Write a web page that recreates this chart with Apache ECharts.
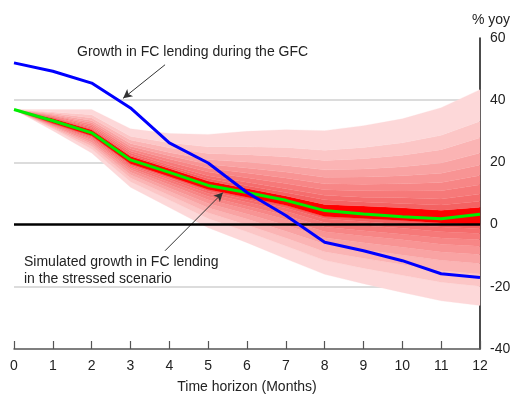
<!DOCTYPE html>
<html><head><meta charset="utf-8">
<script src="https://cdn.jsdelivr.net/npm/echarts@6/dist/echarts.min.js"></script>
<style>html,body{margin:0;padding:0;background:#fff}#c{width:512px;height:394px}</style>
</head><body><div id="c"></div>
<script>
// ---- data ----
const months = [0,1,2,3,4,5,6,7,8,9,10,11,12];
const yTicks = [-40,-20,0,20,40,60];
const gfcGrowth   = [52, 49.3, 45.5, 37.5, 26.3, 19.8, 10.3, 2.9, -5.7, -8.4, -11.6, -15.8, -17];
const simMedian   = [37, 33.4, 29.5, 20.8, 16.8, 12.6, 10.3, 7.8, 4.5, 3.4, 2.5, 1.9, 3.3];
// fan boundaries, bottom (outermost lower) to top (outermost upper)
const L9 = [37, 30.2, 23.0, 12.0, 5.5, -1.0, -5.8, -11.0, -16.0, -19.0, -21.8, -24.5, -26.0];
const L8 = [37, 30.8, 24.3, 13.8, 7.9, 2.0, -2.3, -6.9, -11.5, -14.0, -16.3, -18.5, -19.8];
const L7 = [37, 31.1, 25.2, 15.0, 9.4, 3.8, -0.1, -4.3, -8.7, -10.8, -12.8, -14.8, -15.9];
const L6 = [37, 31.5, 25.9, 16.0, 10.7, 5.4, 1.8, -2.1, -6.2, -8.1, -9.8, -11.5, -12.5];
const L5 = [37, 31.7, 26.5, 16.8, 11.8, 6.8, 3.4, -0.2, -4.2, -5.8, -7.3, -8.8, -9.6];
const L4 = [37, 32.0, 27.1, 17.6, 12.8, 8.0, 4.9, 1.6, -2.3, -3.7, -4.9, -6.3, -7.0];
const L3 = [37, 32.1, 27.5, 18.2, 13.6, 9.0, 6.0, 2.9, -0.8, -2.0, -3.1, -4.3, -4.9];
const L2 = [37, 32.3, 28.0, 18.8, 14.4, 10.0, 7.2, 4.3, 0.7, -0.3, -1.2, -2.3, -2.9];
const L1 = [37, 32.5, 28.3, 19.2, 15.0, 10.7, 8.1, 5.3, 1.9, 1.0, 0.1, -0.8, -1.3];
const redLow  = [37, 32.6, 28.6, 19.6, 15.5, 11.3, 8.8, 6.2, 2.6, 2.0, 1.3, 0.5, 0.0];
const redHigh = [37, 34.2, 30.5, 22.0, 18.0, 14.0, 11.6, 9.2, 6.5, 6.0, 5.4, 4.6, 5.6];
const U1 = [37, 34.3, 30.8, 22.4, 18.6, 14.8, 12.5, 10.3, 8.0, 7.3, 6.8, 6.3, 7.5];
const U2 = [37, 34.5, 31.2, 23.0, 19.2, 15.7, 13.6, 11.5, 9.4, 8.8, 8.6, 8.2, 9.8];
const U3 = [37, 34.7, 31.7, 23.7, 20.1, 16.9, 15.1, 13.2, 11.2, 10.9, 10.8, 10.9, 12.8];
const U4 = [37, 35.0, 32.3, 24.4, 21.1, 18.1, 16.6, 15.0, 13.1, 13.0, 13.1, 13.5, 15.8];
const U5 = [37, 35.2, 32.8, 25.2, 22.1, 19.4, 18.2, 16.9, 15.2, 15.3, 15.7, 16.5, 19.2];
const U6 = [37, 35.5, 33.5, 26.1, 23.2, 20.9, 20.1, 19.0, 17.6, 17.9, 18.6, 19.8, 23.0];
const U7 = [37, 35.9, 34.3, 27.2, 24.7, 22.9, 22.5, 21.8, 20.6, 21.2, 22.3, 24.1, 27.9];
const U8 = [37, 36.2, 35.3, 28.4, 26.3, 25.0, 25.0, 24.8, 23.9, 24.8, 26.3, 28.7, 33.2];
const U9 = [37, 37.0, 37.0, 30.8, 29.3, 29.0, 30.0, 30.5, 30.2, 31.8, 34.0, 37.6, 43.4];

const boundaries = [L9,L8,L7,L6,L5,L4,L3,L2,L1,redLow,redHigh,U1,U2,U3,U4,U5,U6,U7,U8,U9];
const shades = ['#fdd8d9','#fcc6c6','#fbb4b4','#f9a3a3','#f89494','#f78686','#f67979','#f56d6d','#f46262'];
const bandColors = shades.concat(['#ff0000']).concat(shades.slice().reverse());

const chart = echarts.init(document.getElementById('c'), null, {renderer:'canvas'});
const FONT = '"Liberation Sans", Arial, Helvetica, sans-serif';

const fanSeries = {
  type: 'custom',
  z: 1,
  silent: true,
  data: bandColors.map((c, i) => [6, 0, i]),
  renderItem: function (params, api) {
    const i = api.value(2);
    const lo = boundaries[i], hi = boundaries[i + 1];
    const pts = [];
    for (let k = 0; k < months.length; k++) pts.push(api.coord([months[k], hi[k]]));
    for (let k = months.length - 1; k >= 0; k--) pts.push(api.coord([months[k], lo[k]]));
    return {
      type: 'polygon',
      shape: { points: pts },
      style: { fill: bandColors[i], stroke: bandColors[i], lineWidth: 0.3 }
    };
  }
};

chart.setOption({
  animation: false,
  grid: { left: 14, right: 32, top: 38, bottom: 45, outerBoundsMode: 'none', containLabel: false },
  xAxis: {
    type: 'value', min: 0, max: 12, interval: 1,
    name: 'Time horizon (Months)', nameLocation: 'middle', nameGap: 31,
    nameTextStyle: { fontFamily: FONT, fontSize: 14, color: '#222' },
    axisLine: { onZero: false, lineStyle: { color: '#555', width: 1.5 } },
    axisTick: { inside: true, length: 8, lineStyle: { color: '#555', width: 1.2 } },
    axisLabel: { fontFamily: FONT, fontSize: 14, color: '#222', margin: 10 },
    splitLine: { show: false }
  },
  yAxis: {
    type: 'value', position: 'right', min: -40, max: 60, interval: 20,
    axisLine: { show: true, onZero: false, lineStyle: { color: '#111', width: 1.5 } },
    axisTick: { show: false },
    axisLabel: { fontFamily: FONT, fontSize: 14, color: '#222', margin: 10,
      formatter: v => (yTicks.indexOf(v) >= 0 ? String(v) : '') },
    splitLine: { show: true, lineStyle: { width: 2,
      color: ['rgba(0,0,0,0)', '#dcdcdc', 'rgba(0,0,0,0)', '#dcdcdc', '#dcdcdc', 'rgba(0,0,0,0)'] } }
  },
  graphic: [
    { type: 'text', x: 77, y: 52, z: 100, style: { text: 'Growth in FC lending during the GFC', font: '14px ' + FONT, fill: '#222', verticalAlign: 'middle' } },
    { type: 'text', x: 24, y: 262, z: 100, style: { text: 'Simulated growth in FC lending', font: '14px ' + FONT, fill: '#222', verticalAlign: 'middle' } },
    { type: 'text', x: 24, y: 279, z: 100, style: { text: 'in the stressed scenario', font: '14px ' + FONT, fill: '#222', verticalAlign: 'middle' } },
    { type: 'text', x: 472, y: 20, z: 100, style: { text: '% yoy', font: '14px ' + FONT, fill: '#222', verticalAlign: 'middle' } }
  ],
  series: [
    fanSeries,
    {
      type: 'line', z: 5, silent: true, symbol: 'none',
      data: [[0, 0], [12, 0]],
      lineStyle: { color: '#000', width: 2.5 },
      markLine: {
        silent: true, symbol: ['none', 'arrow'], symbolSize: [7, 9],
        label: { show: false },
        lineStyle: { color: '#333', width: 1, type: 'solid' },
        data: [
          [{ coord: [3.89, 51.4] }, { coord: [2.81, 40.6] }],
          [{ coord: [3.89, -8.4] }, { coord: [5.38, 10.3] }]
        ]
      }
    },
    {
      type: 'line', z: 6, silent: true, symbol: 'none',
      data: months.map((m, i) => [m, simMedian[i]]),
      lineStyle: { color: '#00ee00', width: 3 }
    },
    {
      type: 'line', z: 7, silent: true, symbol: 'none',
      data: months.map((m, i) => [m, gfcGrowth[i]]),
      lineStyle: { color: '#0000ff', width: 3 }
    }
  ]
});
</script>
</body></html>
